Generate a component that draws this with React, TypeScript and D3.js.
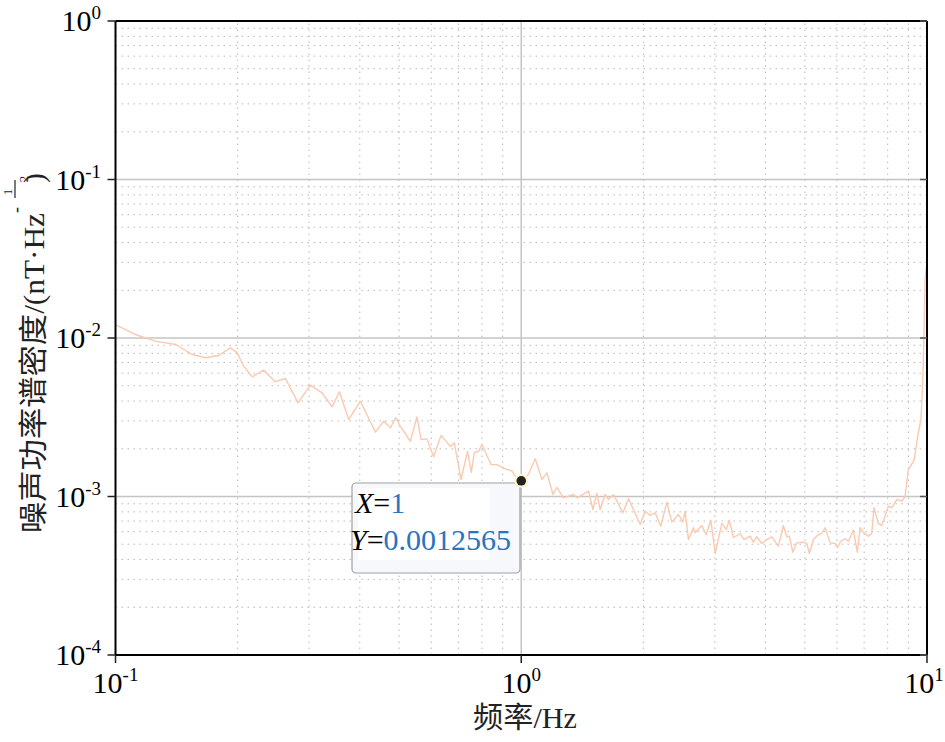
import React from "react";
import * as d3 from "d3";

const freq: number[] = [0.1, 0.112, 0.1254, 0.1406, 0.1545, 0.1667, 0.1797, 0.192, 0.1994, 0.207, 0.2172, 0.2318, 0.2477, 0.2623, 0.2818, 0.3021, 0.3229, 0.342, 0.3563, 0.3756, 0.4013, 0.437, 0.458, 0.4757, 0.4903, 0.5035, 0.533, 0.5535, 0.5662, 0.5857, 0.6081, 0.6344, 0.6687, 0.6839, 0.7103, 0.7374, 0.7531, 0.7661, 0.7849, 0.8, 0.8421, 0.8711, 0.9222, 0.9487, 0.9759, 1, 1.0423, 1.0826, 1.1245, 1.157, 1.197, 1.224, 1.271, 1.345, 1.371, 1.465, 1.502, 1.536, 1.565, 1.61, 1.641, 1.688, 1.78, 1.838, 1.964, 2.02, 2.078, 2.138, 2.208, 2.285, 2.35, 2.44, 2.502, 2.535, 2.582, 2.657, 2.683, 2.786, 2.855, 2.932, 3.005, 3.121, 3.199, 3.258, 3.334, 3.463, 3.542, 3.664, 3.734, 3.806, 3.916, 4.029, 4.145, 4.302, 4.426, 4.512, 4.579, 4.669, 4.775, 4.959, 5.055, 5.13, 5.248, 5.398, 5.503, 5.608, 5.769, 5.934, 6.012, 6.13, 6.281, 6.4, 6.583, 6.734, 6.839, 6.967, 7.168, 7.307, 7.404, 7.586, 7.733, 8.029, 8.185, 8.422, 8.664, 8.829, 8.995, 9.29, 9.519, 9.665, 9.756, 9.829, 9.887, 10];

const psd: number[] = [0.01216, 0.01052, 0.00955, 0.0091, 0.00787, 0.0075, 0.00776, 0.00867, 0.00807, 0.00664, 0.00569, 0.00627, 0.0053, 0.00555, 0.0039, 0.00504, 0.00451, 0.00368, 0.00458, 0.00306, 0.00399, 0.00255, 0.00299, 0.00271, 0.00314, 0.00278, 0.00223, 0.00318, 0.00229, 0.00231, 0.00178, 0.00243, 0.00207, 0.00218, 0.00128, 0.00193, 0.00142, 0.00189, 0.00193, 0.00213, 0.00159, 0.00159, 0.00148, 0.00145, 0.00129, 0.0012565, 0.00138, 0.00173, 0.00128, 0.00141, 0.00103, 0.00114, 0.000981, 0.00103, 0.000981, 0.00108, 0.000828, 0.00105, 0.000828, 0.00103, 0.000957, 0.00103, 0.000789, 0.000967, 0.000666, 0.000808, 0.000759, 0.000789, 0.00065, 0.000921, 0.000689, 0.00077, 0.000689, 0.000808, 0.000535, 0.000635, 0.00059, 0.000656, 0.000575, 0.000709, 0.000437, 0.000676, 0.000619, 0.000709, 0.000549, 0.000584, 0.000535, 0.000562, 0.000515, 0.000557, 0.000505, 0.000535, 0.000557, 0.000486, 0.000656, 0.000557, 0.000562, 0.000445, 0.00051, 0.000515, 0.000505, 0.000437, 0.000535, 0.000575, 0.000584, 0.000635, 0.00051, 0.000505, 0.000475, 0.000522, 0.000541, 0.000522, 0.000613, 0.000445, 0.000635, 0.000595, 0.000562, 0.000584, 0.000849, 0.000676, 0.000656, 0.000869, 0.000849, 0.000957, 0.000934, 0.000996, 0.00148, 0.00169, 0.00253, 0.00306, 0.00524, 0.01026, 0.02339, 0.03];

const xTickExps: number[] = [-1, 0, 1];
const yTickExps: number[] = [-4, -3, -2, -1, 0];
const tipX = 1;
const tipY = 0.0012565;
const xLabel = "频率/Hz";
const yLabelMain = "噪声功率谱密度/(nT·Hz";

const W = 945;
const H = 742;
const serif = "Liberation Serif, DejaVu Serif, serif";
const cjk = "Liberation Serif, Noto Sans CJK SC, serif";

export default function App() {
  const x = d3.scaleLog().domain([0.1, 10]).range([115.5, 927]);
  const y = d3.scaleLog().domain([1e-4, 1]).range([655, 21]);
  const [x0, x1] = x.range();
  const [y0, y1] = y.range();

  const minorX: number[] = [];
  [0.1, 1].forEach((d) => {
    for (let k = 2; k <= 9; k++) minorX.push(d * k);
  });
  const minorY: number[] = [];
  [1e-4, 1e-3, 1e-2, 1e-1].forEach((d) => {
    for (let k = 2; k <= 9; k++) minorY.push(d * k);
  });

  const n = Math.min(freq.length, psd.length);
  const pts: [number, number][] = [];
  for (let i = 0; i < n; i++) pts.push([freq[i], psd[i]]);
  const line = d3
    .line<[number, number]>()
    .x((d) => x(d[0]))
    .y((d) => y(d[1]));

  const px = x(tipX);
  const py = y(tipY);
  const sf = { fontFamily: serif };
  const cf = { fontFamily: cjk };

  return (
    <svg
      width={W}
      height={H}
      style={{ position: "absolute", left: 0, top: 0, background: "#fff" }}
    >
      <rect x={0} y={0} width={W} height={H} fill="#fff" />
      {minorX.map((v) => (
        <line key={"mx" + v} x1={x(v)} x2={x(v)} y1={y0} y2={y1} stroke="#b8b8b8" strokeWidth={1} strokeDasharray="1.5,4.5" />
      ))}
      {minorY.map((v) => (
        <line key={"my" + v} x1={x0} x2={x1} y1={y(v)} y2={y(v)} stroke="#b8b8b8" strokeWidth={1} strokeDasharray="1.5,4.5" />
      ))}
      {xTickExps.slice(1, -1).map((e) => (
        <line key={"gx" + e} x1={x(Math.pow(10, e))} x2={x(Math.pow(10, e))} y1={y0} y2={y1} stroke="#c4c4c4" strokeWidth={1.5} />
      ))}
      {yTickExps.slice(1, -1).map((e) => (
        <line key={"gy" + e} x1={x0} x2={x1} y1={y(Math.pow(10, e))} y2={y(Math.pow(10, e))} stroke="#c4c4c4" strokeWidth={1.5} />
      ))}
      <path d={line(pts) || ""} fill="none" stroke="#fac9b0" strokeWidth={1.4} strokeLinejoin="round" />
      <line x1={x0} x2={x1} y1={y1} y2={y1} stroke="#000" strokeWidth={2} />
      <line x1={x1} x2={x1} y1={y1} y2={y0} stroke="#000" strokeWidth={2} />
      <line x1={x0} x2={x1} y1={y0} y2={y0} stroke="#000" strokeWidth={2} />
      <line x1={x0} x2={x0} y1={y1} y2={y0} stroke="#000" strokeWidth={2} />
      {xTickExps.map((e) => (
        <line key={"tx" + e} x1={x(Math.pow(10, e))} x2={x(Math.pow(10, e))} y1={y0} y2={y0 + 8} stroke="#222" strokeWidth={1.5} />
      ))}
      {yTickExps.map((e) => (
        <g key={"ty" + e}>
          <line x1={x0 - 8} x2={x0} y1={y(Math.pow(10, e))} y2={y(Math.pow(10, e))} stroke="#222" strokeWidth={1.5} />
          <line x1={x1 - 7} x2={x1} y1={y(Math.pow(10, e))} y2={y(Math.pow(10, e))} stroke="#555" strokeWidth={1.5} />
        </g>
      ))}
      {xTickExps.map((e) => (
        <text key={"lx" + e} x={x(Math.pow(10, e)) - (e === 1 ? 3 : 0)} y={693} textAnchor="middle" style={sf} fontSize={30} fill="#000">
          <tspan>10</tspan>
          <tspan dy={-12} fontSize={19}>{String(e)}</tspan>
        </text>
      ))}
      {yTickExps.map((e) => (
        <text key={"ly" + e} x={101} y={y(Math.pow(10, e)) + 10} textAnchor="end" style={sf} fontSize={30} fill="#000">
          <tspan>10</tspan>
          <tspan dy={-12} fontSize={19}>{String(e)}</tspan>
        </text>
      ))}
      <text x={525} y={728} textAnchor="middle" style={cf} fontSize={29} fill="#222" textLength={104} lengthAdjust="spacingAndGlyphs">
        {xLabel}
      </text>
      <g transform="translate(44,213) rotate(-90)" style={cf} fill="#222">
        <text x={-320} y={0} fontSize={29} textLength={320} lengthAdjust="spacingAndGlyphs">{yLabelMain}</text>
        <text x={0} y={-22} fontSize={18} style={sf}>-</text>
        <line x1={15} x2={33} y1={-29} y2={-29} stroke="#222" strokeWidth={1.2} />
        <text x={21} y={-32} textAnchor="middle" fontSize={13} style={sf}>1</text>
        <text x={34} y={-16} textAnchor="middle" fontSize={13} style={sf}>2</text>
        <text x={30} y={0} fontSize={29} style={sf}>)</text>
      </g>
      <rect x={352} y={483} width={168} height={90} rx={4} fill="#f7f8fb" stroke="#a0a0a0" strokeWidth={1.2} />
      <rect x={358} y={488} width={132} height={72} fill="#fff" />
      <text x={355} y={513} style={sf} fontSize={30} fill="#000">
        <tspan fontStyle="italic">X</tspan>
        <tspan>=</tspan>
        <tspan fill="#2a74bf">{String(tipX)}</tspan>
      </text>
      <text x={350} y={550} style={sf} fontSize={30} fill="#000">
        <tspan fontStyle="italic">Y</tspan>
        <tspan>=</tspan>
        <tspan fill="#2a74bf">{String(tipY)}</tspan>
      </text>
      <circle cx={px} cy={py} r={7} fill="#fdf6cf" />
      <circle cx={px} cy={py} r={4.8} fill="#222" />
    </svg>
  );
}
